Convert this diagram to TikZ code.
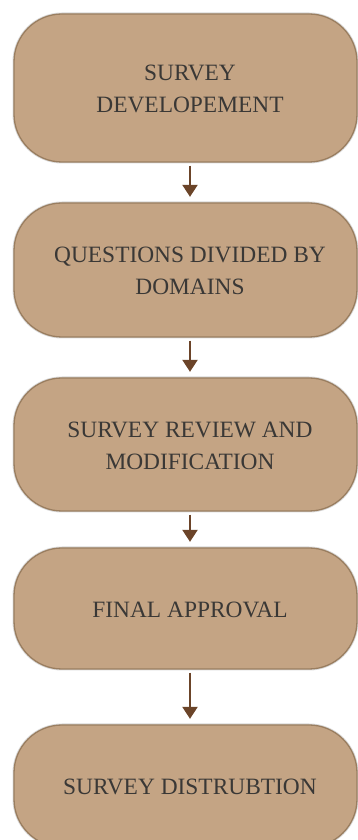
\documentclass[tikz,border=0pt]{standalone}
\usepackage{fontspec}
\setmainfont{Liberation Serif}
\usetikzlibrary{arrows.meta}
\definecolor{boxfill}{HTML}{C4A484}
\definecolor{boxline}{HTML}{9A7E60}
\definecolor{arrowc}{HTML}{6B4429}
\definecolor{txt}{HTML}{3A3836}
\begin{document}
\begin{tikzpicture}[x=1pt,y=1pt,
  stage/.style={draw=boxline, line width=1.3pt, fill=boxfill, rounded corners=48pt,
    minimum width=343pt, inner sep=0pt, preaction={draw=black!15, line width=3pt}},
  stagetext/.style={text=txt, font=\fontsize{23.4}{32}\selectfont, align=center, inner sep=0pt},
  flow/.style={draw=arrowc, line width=2.3pt, shorten <=3pt, shorten >=5.5pt,
    -{Triangle[length=12pt,width=15pt]}}]
\useasboundingbox (0,0) rectangle (358,840);
\clip (0,0) rectangle (358,840);
\node[stage, minimum height=148pt] (b1) at (185.5,752) {};
\node[stage, minimum height=134pt] (b2) at (185.5,570) {};
\node[stage, minimum height=133pt] (b3) at (185.5,395.5) {};
\node[stage, minimum height=121pt] (b4) at (185.5,231.5) {};
\node[stage, minimum height=122pt] (b5) at (185.5,54) {};
\node[stagetext] (t1) at (190,751) {SURVEY\\DEVELOPEMENT};
\node[stagetext] (t2) at (190,569) {QUESTIONS DIVIDED BY\\DOMAINS};
\node[stagetext] (t3) at (190,394.5) {SURVEY REVIEW AND\\MODIFICATION};
\node[stagetext] (t4) at (190,230.5) {FINAL APPROVAL};
\node[stagetext] (t5) at (190,53.5) {SURVEY DISTRUBTION};
\draw[flow] (b1.south -| t1) -- (b2.north -| t1);
\draw[flow] (b2.south -| t2) -- (b3.north -| t2);
\draw[flow] (b3.south -| t3) -- (b4.north -| t3);
\draw[flow] (b4.south -| t4) -- (b5.north -| t4);
\end{tikzpicture}
\end{document}
